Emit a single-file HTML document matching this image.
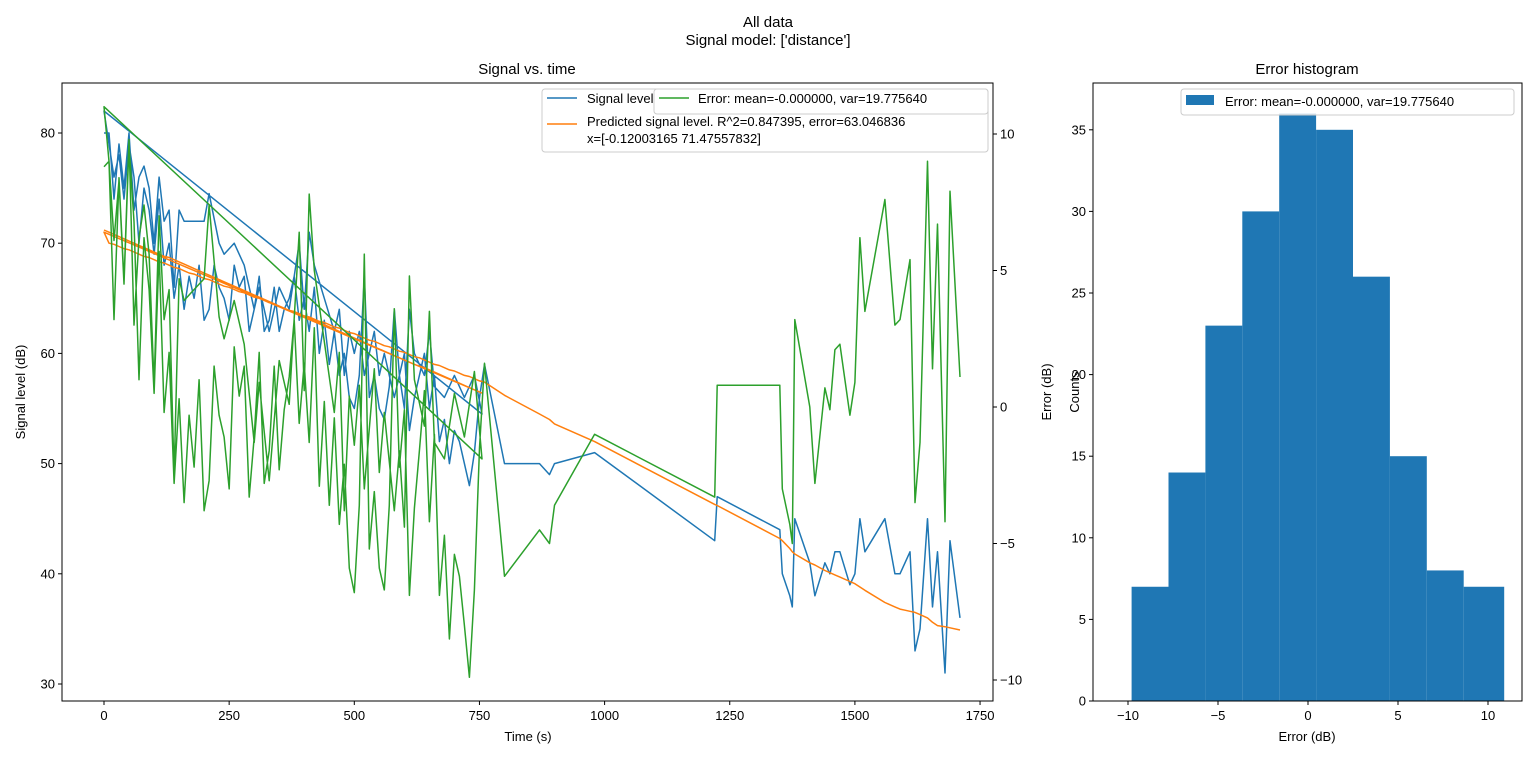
<!DOCTYPE html>
<html><head><meta charset="utf-8"><style>
body{margin:0;background:#fff}
svg{display:block;font-family:"Liberation Sans","DejaVu Sans",sans-serif}
</style></head><body>
<svg id="c" width="1536" height="759" xmlns="http://www.w3.org/2000/svg"></svg>
<script>
// [time, signal, predicted]
const pass1 = [[0,80,71.2],[10,80,71.0],[20,74,70.8],[30,79,70.6],[40,75,70.4],[50,80,70.2],[60,73,70.0],[70,76,69.8],[80,77,69.6],[90,75,69.4],[100,70,69.2],[110,76,69.0],[120,72,68.8],[130,73,68.7],[140,66,68.5],[150,73,68.3],[160,72,68.1],[175,72,67.8],[200,72,67.3],[210,74.5,67.1],[230,70,66.7],[240,69,66.5],[260,70,66.1],[280,68,65.7],[300,64,65.3],[310,66,65.1],[330,62,64.7],[350,66,64.3],[370,64,63.9],[390,70,63.6],[400,64,63.4],[410,71,63.2],[420,68,63.0],[440,65,62.6],[460,62,62.2],[470,64,62.0],[480,58,61.8],[490,62,61.6],[500,60,61.4],[510,62,61.2],[520,58,61.0],[540,62,60.6],[550,58,60.4],[560,60,60.2],[580,56,59.8],[590,58,59.6],[600,55,59.4],[610,64,59.2],[620,60,59.0],[640,58,58.7],[650,62,58.5],[660,57,58.3],[680,56,57.9],[700,58,57.5],[720,56,57.1],[740,58,56.7],[755,54.5,56.4]];
const pass2 = [[0,82,71.0],[10,79,70.0],[20,76,69.9],[30,78,69.7],[40,74,69.5],[50,79,69.4],[60,76,69.2],[70,70,69.0],[80,75,68.8],[90,73,68.7],[100,69,68.5],[110,74,68.3],[120,68,68.2],[130,70,68.0],[140,65,67.8],[150,68,67.7],[160,64,67.5],[170,67,67.3],[180,65,67.2],[190,68,67.0],[200,63,66.8],[210,64,66.7],[220,68,66.5],[230,66,66.3],[240,65,66.1],[250,63,66.0],[260,68,65.8],[270,66,65.6],[280,67,65.5],[290,62,65.3],[300,64,65.1],[310,67,65.0],[320,62,64.8],[330,63,64.6],[340,66,64.5],[350,62,64.3],[360,64,64.1],[370,65,63.9],[380,67,63.8],[390,63,63.6],[400,65,63.4],[410,62,63.3],[420,66,63.1],[430,60,62.9],[440,63,62.8],[450,59,62.6],[460,62,62.4],[470,58,62.3],[480,60,62.1],[490,56,61.9],[500,55,61.8],[510,58,61.6],[520,67,61.4],[530,56,61.2],[540,58,61.1],[550,55,60.9],[560,54,60.7],[570,57,60.6],[580,64,60.4],[590,58,60.2],[600,60,60.1],[610,53,59.9],[620,56,59.7],[630,58,59.6],[640,60,59.4],[650,55,59.2],[660,58,59.0],[670,52,58.9],[680,54,58.7],[690,50,58.5],[700,53,58.4],[710,52,58.2],[720,50,58.0],[730,48,57.9],[740,51,57.7],[750,56,57.5],[760,59,57.4]];
const tail = [[800,50,56.2],[870,50,54.5],[890,49,54.0],[900,50,53.6],[980,51,52.0],[1220,43,46.3],[1225,47,46.2],[1350,44,43.2],[1355,40,43.0],[1370,38,42.3],[1375,37,42.0],[1380,45,41.8],[1410,41,41.0],[1420,38,40.8],[1440,41,40.3],[1450,40,40.1],[1460,42,39.9],[1470,42,39.7],[1490,39,39.3],[1500,40,39.1],[1510,45,38.8],[1520,42,38.5],[1560,45,37.4],[1580,40,37.0],[1590,40,36.8],[1600,41,36.7],[1610,42,36.6],[1620,33,36.5],[1630,35,36.3],[1645,45,36.0],[1655,37,35.6],[1665,42,35.3],[1680,31,35.2],[1690,43,35.1],[1710,36,34.9]];
const histEdges = [-9.8,-7.75,-5.7,-3.65,-1.6,0.45,2.5,4.55,6.6,8.65,10.9];
const histCounts = [7,14,23,30,36,35,26,15,8,7];
const xTicks = [0,250,500,750,1000,1250,1500,1750];
const yTicks = [30,40,50,60,70,80];
const eTicks = [-10,-5,0,5,10];
const hxTicks = [-10,-5,0,5,10];
const hyTicks = [0,5,10,15,20,25,30,35];

const svg = document.getElementById('c');
const NS = 'http://www.w3.org/2000/svg';
function mk(tag, attrs, parent, text){const e=document.createElementNS(NS,tag);for(const k in attrs)e.setAttribute(k,attrs[k]);if(text!==undefined)e.textContent=text;(parent||svg).appendChild(e);return e;}
const X = t => 104 + t*0.5006;
const Y = v => 133 + (80-v)*11.02;
const E = v => 407 - v*27.3;
const HX = v => 1308 + v*18;
const HY = c => 701 - c*16.32;

const data = pass1.concat(pass2, tail);
const g = mk('g',{});


mk('rect',{x:62,y:83,width:931,height:618,fill:'none',stroke:'#000','stroke-width':1},g);
function line(pts, color, name){
  const p = mk('polyline',{points:pts.map(q=>q[0].toFixed(1)+','+q[1].toFixed(1)).join(' '),fill:'none',stroke:color,'stroke-width':1.5,'stroke-linejoin':'round'},g);
  
  
}
line(data.map(d=>[X(d[0]),Y(d[1])]),'#1f77b4','signal-line');
line(data.map(d=>[X(d[0]),Y(d[2])]),'#ff7f0e','predicted-line');
line(data.map(d=>[X(d[0]),E(d[1]-d[2])]),'#2ca02c','error-line');
xTicks.forEach(t=>{mk('line',{x1:X(t),x2:X(t),y1:701,y2:705,stroke:'#000'},g);mk('text',{x:X(t),y:720,'font-size':13,'text-anchor':'middle'},g,t);});
yTicks.forEach(t=>{mk('line',{x1:58,x2:62,y1:Y(t),y2:Y(t),stroke:'#000'},g);mk('text',{x:55,y:Y(t)+4.5,'font-size':13,'text-anchor':'end'},g,t);});
eTicks.forEach(t=>{mk('line',{x1:993,x2:997,y1:E(t),y2:E(t),stroke:'#000'},g);mk('text',{x:1000,y:E(t)+4.5,'font-size':13},g,t<0?'\u2212'+(-t):t);});
mk('text',{x:528,y:741,'font-size':13,'text-anchor':'middle'},g,'Time (s)');
mk('text',{x:25,y:392,'font-size':13,'text-anchor':'middle',transform:'rotate(-90 25 392)'},g,'Signal level (dB)');
mk('text',{x:1051,y:392,'font-size':13,'text-anchor':'middle',transform:'rotate(-90 1051 392)'},g,'Error (dB)');
mk('text',{x:527,y:74,'font-size':15,'text-anchor':'middle'},g,'Signal vs. time');
const lg = mk('g',{},g);


mk('rect',{x:542,y:89,width:446,height:63,rx:3,fill:'#fff','fill-opacity':0.8,stroke:'#ccc'},lg);
mk('line',{x1:547,x2:577,y1:98,y2:98,stroke:'#1f77b4','stroke-width':1.5},lg);
mk('text',{x:587,y:103,'font-size':13},lg,'Signal level');
mk('line',{x1:547,x2:577,y1:124,y2:124,stroke:'#ff7f0e','stroke-width':1.5},lg);
mk('text',{x:587,y:126,'font-size':13},lg,'Predicted signal level. R^2=0.847395, error=63.046836');
mk('text',{x:587,y:143,'font-size':13},lg,'x=[-0.12003165 71.47557832]');
mk('rect',{x:654,y:89,width:334,height:25,rx:3,fill:'#fff','fill-opacity':0.8,stroke:'#ccc'},lg);
mk('line',{x1:659,x2:689,y1:98,y2:98,stroke:'#2ca02c','stroke-width':1.5},lg);
mk('text',{x:698,y:103,'font-size':13},lg,'Error: mean=-0.000000, var=19.775640');

const h = mk('g',{});


histCounts.forEach((c,i)=>{
  const r = mk('rect',{x:HX(histEdges[i]),y:HY(c),width:HX(histEdges[i+1])-HX(histEdges[i]),height:701-HY(c),fill:'#1f77b4'},h);
  
  
});
mk('rect',{x:1093,y:83,width:429,height:618,fill:'none',stroke:'#000'},h);
hxTicks.forEach(t=>{mk('line',{x1:HX(t),x2:HX(t),y1:701,y2:705,stroke:'#000'},h);mk('text',{x:HX(t),y:720,'font-size':13,'text-anchor':'middle'},h,t<0?'\u2212'+(-t):t);});
hyTicks.forEach(t=>{mk('line',{x1:1089,x2:1093,y1:HY(t),y2:HY(t),stroke:'#000'},h);mk('text',{x:1086,y:HY(t)+4.5,'font-size':13,'text-anchor':'end'},h,t);});
mk('text',{x:1307,y:741,'font-size':13,'text-anchor':'middle'},h,'Error (dB)');
mk('text',{x:1079,y:392,'font-size':13,'text-anchor':'middle',transform:'rotate(-90 1079 392)'},h,'Counts');
mk('text',{x:1307,y:74,'font-size':15,'text-anchor':'middle'},h,'Error histogram');
const hl = mk('g',{},h);


mk('rect',{x:1181,y:89,width:333,height:26,rx:3,fill:'#fff','fill-opacity':0.8,stroke:'#ccc'},hl);
mk('rect',{x:1186,y:95,width:28,height:10,fill:'#1f77b4'},hl);
mk('text',{x:1225,y:106,'font-size':13},hl,'Error: mean=-0.000000, var=19.775640');

const t1 = mk('text',{x:768,y:27,'font-size':15,'text-anchor':'middle'},svg,'All data');


const t2 = mk('text',{x:768,y:45,'font-size':15,'text-anchor':'middle'},svg,"Signal model: ['distance']");


</script>
</body></html>
